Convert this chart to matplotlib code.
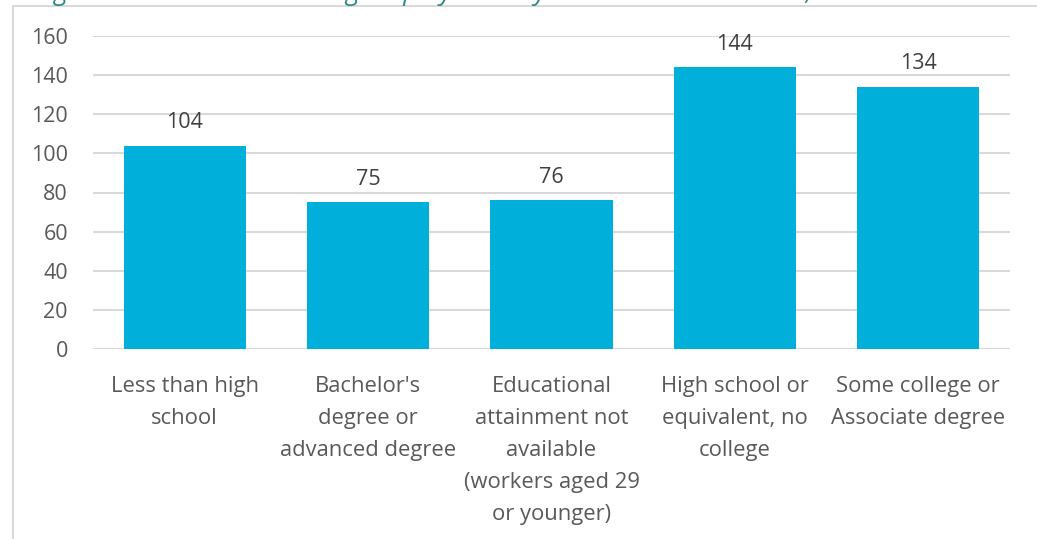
import matplotlib
matplotlib.use("Agg")
import matplotlib.pyplot as plt
from matplotlib.patches import Rectangle

categories = ["Less than high\nschool",
              "Bachelor's\ndegree or\nadvanced degree",
              "Educational\nattainment not\navailable\n(workers aged 29\nor younger)",
              "High school or\nequivalent, no\ncollege",
              "Some college or\nAssociate degree"]
values = [104, 75, 76, 144, 134]
yticks = [0, 20, 40, 60, 80, 100, 120, 140, 160]
title = "Figure 4. The Sector Ceasing Employment by Education Attainment, 2019"

plt.rcParams['font.family'] = ['Open Sans', 'DejaVu Sans']
W, H = 1037, 539
fig = plt.figure(figsize=(W/100, H/100), dpi=100)
ax = fig.add_axes([93/W, 1-349/H, (1010-93)/W, (349-36)/H])

x = list(range(len(values)))
bars = ax.bar(x, values, width=0.667, color='#00b0da', zorder=3)
ax.set_xlim(-0.5, len(values)-0.5)
ax.set_ylim(0, 160)
ax.set_yticks(yticks)
ax.grid(axis='y', color='#d9d9d9', linewidth=1.5, zorder=0)
for s in ax.spines.values():
    s.set_visible(False)
ax.tick_params(axis='y', length=0, pad=18, labelsize=15.5, labelcolor='#595959')
ax.tick_params(axis='x', length=0, pad=19.6, labelsize=15.8, labelcolor='#595959')
ax.set_xticks(x)
ax.set_xticklabels(categories, linespacing=1.68)
for xi, v in zip(x, values):
    ax.annotate(str(v), (xi, v), xytext=(0, 9), textcoords='offset points',
                ha='center', va='bottom', fontsize=15.5, color='#404040')

# outer frame
fig.patches.append(Rectangle((13/W, -0.1), 1.2, 1-6/H+0.1, transform=fig.transFigure,
                             fill=False, edgecolor='#d9d9d9', linewidth=1.5))
# clipped title (cut off at the top edge as in the source image)
fig.text(35/W, 1+7/H, title, fontsize=19, style='italic', color='#2e8b8b',
         ha='left', va='center')

fig.savefig("out.png", dpi=100)
